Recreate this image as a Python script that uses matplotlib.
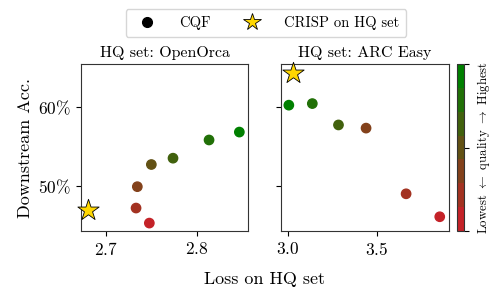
import numpy as np
import matplotlib
matplotlib.use("Agg")
import matplotlib.pyplot as plt
from matplotlib.colors import LinearSegmentedColormap, BoundaryNorm
from matplotlib.lines import Line2D
from matplotlib.ticker import FuncFormatter

plt.rcParams['font.family'] = 'serif'
plt.rcParams['font.serif'] = ['cmr10']
plt.rcParams['mathtext.fontset'] = 'cm'
plt.rcParams['axes.formatter.use_mathtext'] = True
plt.rcParams['axes.unicode_minus'] = False

# OpenOrca panel
orca_loss = [2.7476, 2.733, 2.7344, 2.7498, 2.7736, 2.8132, 2.8465]
orca_acc = [45.3, 47.2, 49.9, 52.7, 53.5, 55.8, 56.8]
orca_quality = [0, 1, 2, 3, 4, 5, 6]
orca_crisp = (2.6805, 47.0)

# ARC Easy panel
arc_loss = [3.854, 3.665, 3.44, 3.285, 3.138, 3.006]
arc_acc = [46.1, 49.0, 57.3, 57.7, 60.4, 60.2]
arc_quality = [0, 1, 2, 4, 5, 6]
arc_crisp = (3.032, 64.3)

n_levels = 7
cmap = LinearSegmentedColormap.from_list("q", ["#c42228", "#008000"], N=n_levels)
norm = BoundaryNorm(np.arange(n_levels + 1) - 0.5, n_levels)

fig = plt.figure(figsize=(4.98, 2.98), dpi=100)
ax1 = fig.add_axes([81/498, 1 - 231/298, 167/498, 167/298])
ax2 = fig.add_axes([281/498, 1 - 231/298, 168/498, 167/298])
cax = fig.add_axes([457/498, 1 - 231/298, 7/498, 167/298])

pct = FuncFormatter(lambda v, p: r'$%d\%%$' % v)

ax1.scatter(orca_loss, orca_acc, c=orca_quality, cmap=cmap, norm=norm, s=45, zorder=3)
ax1.scatter(*orca_crisp, marker='*', s=260, color='gold', edgecolor='black', linewidth=0.6, zorder=4, clip_on=False)
ax1.set_xlim(2.6725, 2.856)
ax1.set_xticks([2.7, 2.8])
ax1.set_title('HQ set: OpenOrca', fontsize=11.5, pad=5)

sc = ax2.scatter(arc_loss, arc_acc, c=arc_quality, cmap=cmap, norm=norm, s=45, zorder=3)
ax2.scatter(*arc_crisp, marker='*', s=260, color='gold', edgecolor='black', linewidth=0.6, zorder=4, clip_on=False)
ax2.set_xlim(2.962, 3.906)
ax2.set_xticks([3.0, 3.5])
ax2.set_title('HQ set: ARC Easy', fontsize=11.5, pad=5)

for ax in (ax1, ax2):
    ax.set_ylim(44.3, 65.4)
    ax.set_yticks([50, 60])
    ax.yaxis.set_major_formatter(pct)
    ax.tick_params(labelsize=12.5)
    for s in ax.spines.values():
        s.set_color('#333333')
ax2.set_yticklabels([])
ax1.set_ylabel('Downstream Acc.', fontsize=13)
fig.text(265/498, 1 - 279/298, 'Loss on HQ set', ha='center', va='center', fontsize=13)

cb = fig.colorbar(sc, cax=cax, ticks=[-0.5, 3, 6.5])
cb.ax.minorticks_off()
cb.ax.set_yticklabels([])
cb.outline.set_color('#333333')
cb.set_label(r'Lowest $\leftarrow$ quality $\rightarrow$ Highest', fontsize=9.2, labelpad=1)

handles = [
    Line2D([], [], marker='o', color='black', linestyle='none', markersize=7),
    Line2D([], [], marker='*', color='gold', markeredgecolor='black', markeredgewidth=0.6,
           linestyle='none', markersize=13),
]
fig.legend(handles, ['CQF', 'CRISP on HQ set'], loc='center', bbox_to_anchor=(266/498, 1 - 23/298),
           ncol=2, fontsize=10.5, frameon=True, columnspacing=1.8, handletextpad=1.2,
           borderpad=0.5, edgecolor='#cccccc')

fig.savefig('out.png', dpi=100)
